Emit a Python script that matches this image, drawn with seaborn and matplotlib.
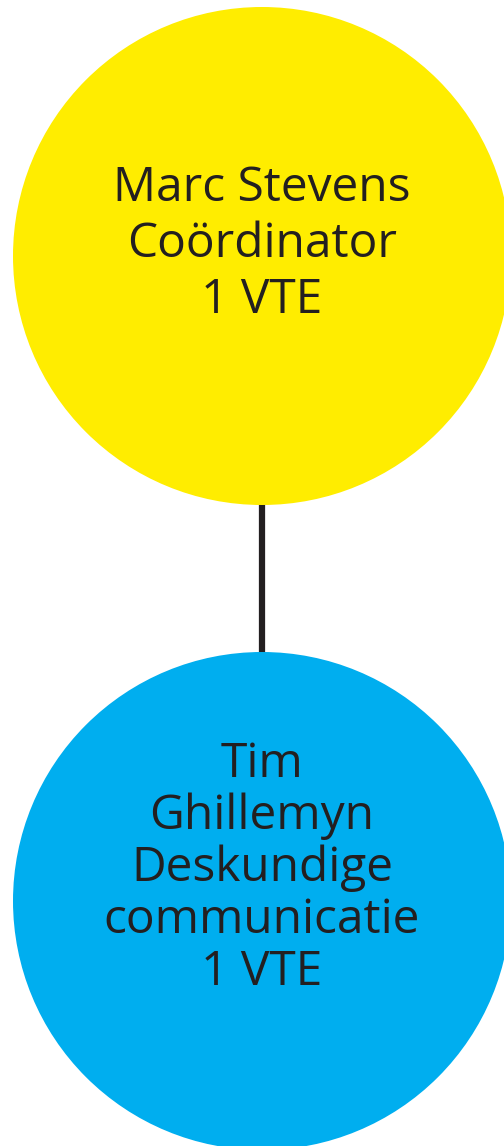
import matplotlib.pyplot as plt
from matplotlib.patches import Circle
import pandas as pd
import seaborn as sns

# Org chart data
labels = ["Marc Stevens\nCoördinator\n1 VTE",
          "Tim\nGhillemyn\nDeskundige\ncommunicatie\n1 VTE"]
colors = ["#ffed00", "#00aeef"]
levels = [0, 1]

sns.set_style("white")
plt.rcParams['font.family'] = ['Open Sans', 'DejaVu Sans']

fig = plt.figure(figsize=(5.04, 11.46), dpi=100)
ax = fig.add_axes([0, 0, 1, 1])
ax.set_xlim(0, 504)
ax.set_ylim(1146, 0)
ax.set_aspect("equal")
ax.axis("off")

# node centres (layout)
cx = 262
cy = [256, 901]
r = 249
text_y = [244, 868]
spacing = [1.235, 1.12]

# connector line between the nodes
df_line = pd.DataFrame({"x": [cx, cx], "y": [cy[0] + r, cy[1] - r]})
sns.lineplot(data=df_line, x="x", y="y", ax=ax, color="#231f20",
             linewidth=4.5, estimator=None, sort=False)

for lvl, lab, col in zip(levels, labels, colors):
    ax.add_patch(Circle((cx, cy[lvl]), r, facecolor=col, edgecolor="none", zorder=2))
    ax.text(cx, text_y[lvl], lab, ha="center", va="center",
            fontsize=34.5, color="#231f20", linespacing=spacing[lvl], zorder=3)

fig.savefig("out.png", dpi=100)
